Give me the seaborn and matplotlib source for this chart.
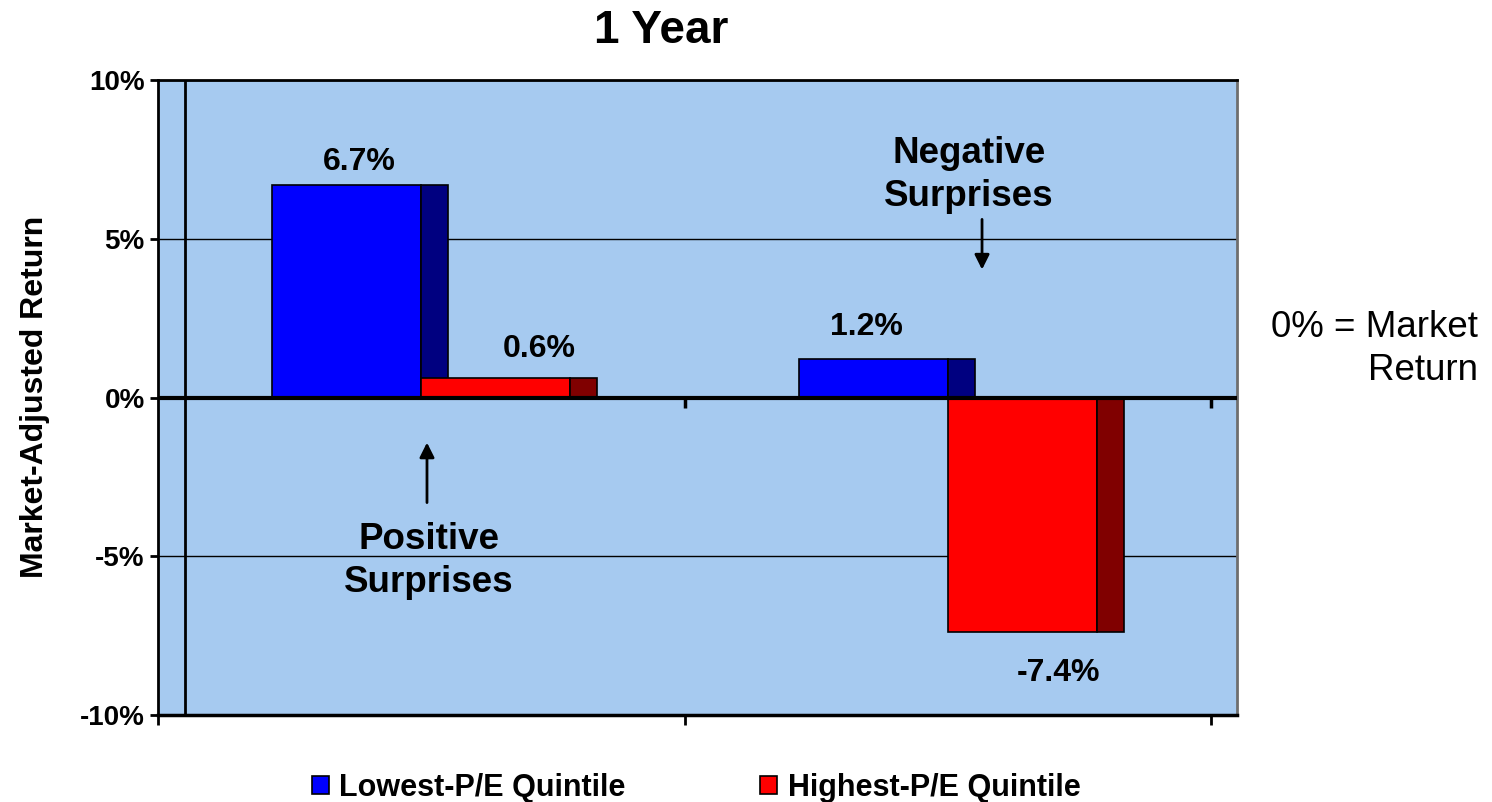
import matplotlib
matplotlib.use("Agg")
import matplotlib.pyplot as plt
from matplotlib.patches import Rectangle, Patch
import seaborn as sns
import pandas as pd

# Data
categories = ["Positive Surprises", "Negative Surprises"]
series = ["Lowest-P/E Quintile", "Highest-P/E Quintile"]
lowest_pe = [6.7, 1.2]
highest_pe = [0.6, -7.4]
y_ticks = [-10, -5, 0, 5, 10]
y_tick_labels = ["-10%", "-5%", "0%", "5%", "10%"]

# Styling
front_colors = ["#0000FF", "#FF0000"]
side_colors = ["#000080", "#800000"]
wall_color = "#A6CAF0"

sns.set_style("white")
plt.rcParams["font.family"] = ["Liberation Sans", "DejaVu Sans"]
plt.rcParams["text.color"] = "black"
plt.rcParams["axes.labelcolor"] = "black"
plt.rcParams["xtick.color"] = "black"
plt.rcParams["ytick.color"] = "black"

df = pd.DataFrame({
    "group": categories * 2,
    "series": [series[0]] * 2 + [series[1]] * 2,
    "value": lowest_pe + highest_pe,
})

fig = plt.figure(figsize=(14.92, 8.02), dpi=100)
ax = fig.add_axes([158 / 1492, 1 - 715 / 802, 1079 / 1492, 635 / 802])
ax.set_facecolor(wall_color)

sns.barplot(data=df, x="group", y="value", hue="series", order=categories,
            hue_order=series, palette=front_colors, saturation=1, width=0.566,
            edgecolor="black", linewidth=1.2, legend=False, ax=ax)

# depth of the pseudo-3D side faces (in category units)
depth = 27 / 526.5
for i, cont in enumerate(ax.containers):
    for bar in cont:
        bar.set_zorder(2 + i * 0.2)
        x1 = bar.get_x() + bar.get_width()
        h = bar.get_height()
        ax.add_patch(Rectangle((x1, 0), depth, h, facecolor=side_colors[i],
                               edgecolor="black", linewidth=1.2,
                               zorder=2.1 + i * 0.2))

ax.set_xlim(-0.5, 1.5 + 26 / 526.5)
ax.set_ylim(-10, 10)
ax.set_yticks(y_ticks)
ax.set_yticklabels(y_tick_labels, fontsize=20, fontweight="bold")
ax.set_xticks([-0.5, 0.5, 1.5])
ax.set_xticklabels([])
ax.set_xlabel("")
ax.set_ylabel("")
ax.tick_params(axis="y", direction="out", length=6, width=2, pad=3.5, left=True)
ax.tick_params(axis="x", direction="out", length=7, width=2, bottom=True)

ax.set_axisbelow(True)
ax.grid(axis="y", color="black", linewidth=1)
ax.grid(axis="x", visible=False)

for side in ["left", "top", "bottom"]:
    ax.spines[side].set_color("black")
    ax.spines[side].set_linewidth(2)
ax.spines["bottom"].set_linewidth(2.5)
ax.spines["right"].set_color("#6E6E6E")
ax.spines["right"].set_linewidth(2)

# back wall edge and zero line with its category ticks
ax.axvline(-0.5 + depth, color="black", linewidth=2, zorder=1.5)
ax.axhline(0, color="black", linewidth=3, zorder=3)
ax.vlines([0.5, 1.5], -0.33, 0, color="black", linewidth=2.5, zorder=3)

# value labels
values = [lowest_pe, highest_pe]
label_dx = [[0.023, -0.012], [0.082, 0.068]]
label_dy = [[0.48, 0.78], [0.69, -1.54]]
for i, cont in enumerate(ax.containers):
    for j, bar in enumerate(cont):
        cx = bar.get_x() + bar.get_width() / 2
        v = values[i][j]
        ax.text(cx + label_dx[i][j], v + label_dy[i][j], f"{v:.1f}%",
                ha="center", va="baseline", fontsize=23, fontweight="bold",
                zorder=5)

# callouts
ax.text(1.0404, 6.02, "Negative\nSurprises", ha="center", va="baseline",
        fontsize=26.5, fontweight="bold", linespacing=1.32, zorder=5)
ax.annotate("", xy=(1.0651, 4.03), xytext=(1.0651, 5.61),
            arrowprops=dict(arrowstyle="-|>", color="black", lw=2,
                            mutation_scale=22, shrinkA=0, shrinkB=0), zorder=5)
ax.text(0.0147, -6.14, "Positive\nSurprises", ha="center", va="baseline",
        fontsize=26.5, fontweight="bold", linespacing=1.32, zorder=5)
ax.annotate("", xy=(0.0109, -1.42), xytext=(0.0109, -3.31),
            arrowprops=dict(arrowstyle="-|>", color="black", lw=2,
                            mutation_scale=22, shrinkA=0, shrinkB=0), zorder=5)

fig.text(661 / 1492, 1 - 31 / 802, "1 Year", ha="center", va="center",
         fontsize=33, fontweight="bold")
fig.text(35 / 1492, 1 - 397 / 802, "Market-Adjusted Return", rotation=90,
         ha="center", va="center", fontsize=23, fontweight="bold")
fig.text(1478 / 1492, 1 - 380 / 802, "0% = Market\nReturn", ha="right",
         va="baseline", multialignment="right", fontsize=26.5,
         linespacing=1.3)

handles = [Patch(facecolor=c, edgecolor="black", linewidth=1.2)
           for c in front_colors]
fig.legend(handles, series, loc="center",
           bbox_to_anchor=(696 / 1492, 1 - 788 / 802), ncol=2, frameon=False,
           prop={"size": 22, "weight": "bold"}, handlelength=0.55,
           handleheight=0.55, handletextpad=0.35, columnspacing=4.4)

fig.savefig("out.png", dpi=100)
